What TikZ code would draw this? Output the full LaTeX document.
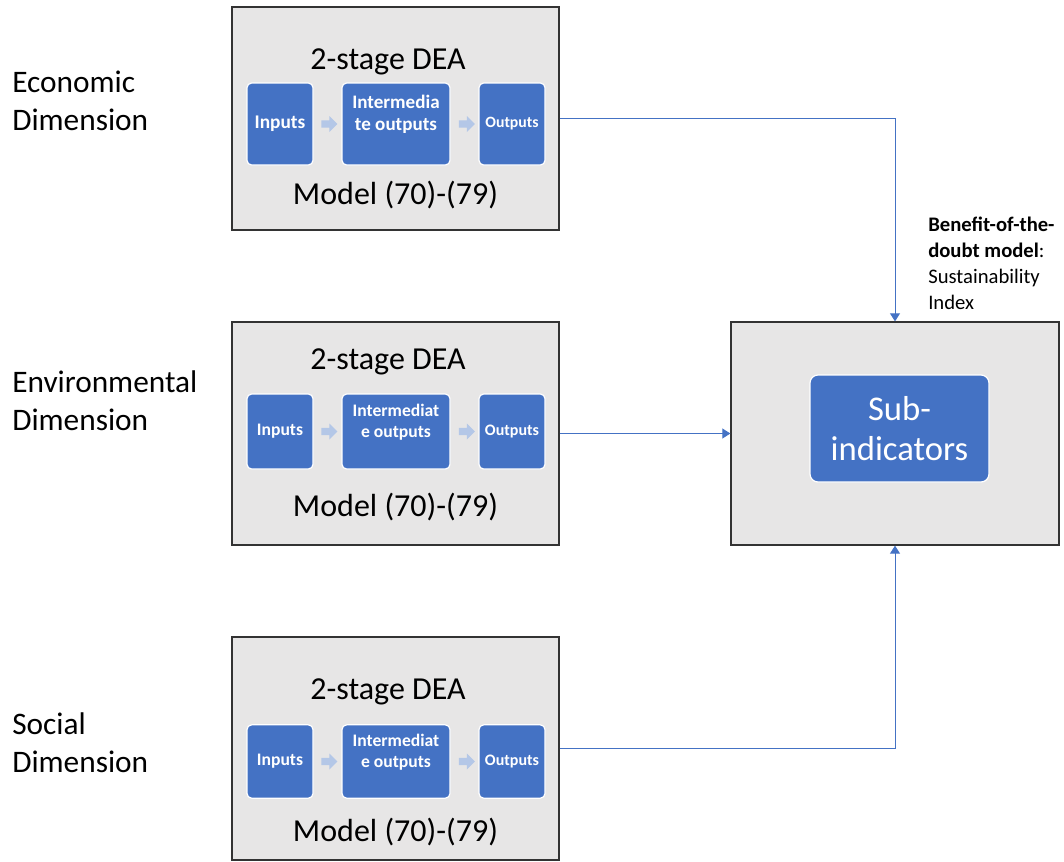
\documentclass[tikz,border=0pt]{standalone}
\usepackage{fontspec}
\setmainfont{Carlito}
\usetikzlibrary{arrows.meta,shapes.arrows,positioning}

\definecolor{dimblue}{HTML}{4472C4}
\definecolor{panelgray}{HTML}{E7E6E6}
\definecolor{chevblue}{HTML}{B4C7E7}

\newcommand{\fsz}[2]{\fontsize{#1}{#2}\selectfont}

\tikzset{
	panel/.style={draw=black!80, fill=panelgray, line width=1pt, inner sep=0pt,
		minimum width=245.25pt, minimum height=167.25pt},
	stagebox/.style={fill=dimblue, draw=white, line width=0.9pt, rounded corners=3.5pt,
		text=white, align=center, inner sep=0pt},
	chev/.style={single arrow, fill=chevblue, draw=none, inner xsep=0pt, inner ysep=2.6pt,
		minimum height=12pt, single arrow head extend=3.2pt},
	headtext/.style={inner sep=0pt, font=\fsz{24}{28.5}},
	modeltext/.style={inner sep=0pt, font=\fsz{24}{28.5}},
	dimlabel/.style={anchor=west, align=left, inner sep=0pt, font=\fsz{23.5}{28.5}},
	flow/.style={-{Triangle[length=6pt,width=7.5pt]}, draw=dimblue, line width=0.75pt}
}

\begin{document}
\begin{tikzpicture}[x=0.75pt,y=-0.75pt]
	\useasboundingbox (0,0) rectangle (1064,861);

	% economic dimension
	\node[panel] (panelA) at (395.5,118.5) {};
	\node[headtext] (deaA) at (388,62) {2-stage DEA};
	\node[stagebox, minimum width=49.5pt, minimum height=61.5pt, font=\fsz{14.5}{17.4}\bfseries] (inA) at (280,124) {Inputs};
	\node[stagebox, minimum width=81pt, minimum height=61.5pt, font=\fsz{14.3}{17}\bfseries] (midA) at (396,124) {Intermedia\\te outputs\\~};
	\node[stagebox, minimum width=49.5pt, minimum height=61.5pt, font=\fsz{11.8}{14}\bfseries] (outA) at (512,124) {Outputs};
	\node[chev] (chA1) at (327.5,124) {};
	\node[chev] (chA2) at (465,124) {};
	\node[modeltext] (modA) at (395.5,195) {Model (70)-(79)};
	\node[dimlabel] (dimA) at (12,101) {Economic\\Dimension};

	% environmental dimension
	\node[panel] (panelB) at (395.5,433.5) {};
	\node[headtext] (deaB) at (388,362) {2-stage DEA};
	\node[stagebox, minimum width=49.5pt, minimum height=56.25pt, font=\fsz{13.2}{15.8}\bfseries] (inB) at (280,431.5) {Inputs};
	\node[stagebox, minimum width=81pt, minimum height=56.25pt, font=\fsz{13.2}{15.8}\bfseries] (midB) at (396,431.5) {Intermediat\\e outputs\\~};
	\node[stagebox, minimum width=49.5pt, minimum height=56.25pt, font=\fsz{12}{14.4}\bfseries] (outB) at (512,431.5) {Outputs};
	\node[chev] (chB1) at (327.5,431.5) {};
	\node[chev] (chB2) at (465,431.5) {};
	\node[modeltext] (modB) at (395.5,507) {Model (70)-(79)};
	\node[dimlabel] (dimB) at (12,401) {Environmental\\Dimension};

	% social dimension
	\node[panel] (panelC) at (395.5,748.5) {};
	\node[headtext] (deaC) at (388,692) {2-stage DEA};
	\node[stagebox, minimum width=49.5pt, minimum height=55pt, font=\fsz{13.2}{15.8}\bfseries] (inC) at (280,761.5) {Inputs};
	\node[stagebox, minimum width=81pt, minimum height=55pt, font=\fsz{13.2}{15.8}\bfseries] (midC) at (396,761.5) {Intermediat\\e outputs\\~};
	\node[stagebox, minimum width=49.5pt, minimum height=55pt, font=\fsz{12}{14.4}\bfseries] (outC) at (512,761.5) {Outputs};
	\node[chev] (chC1) at (327.5,761.5) {};
	\node[chev] (chC2) at (465,761.5) {};
	\node[modeltext] (modC) at (395.5,832) {Model (70)-(79)};
	\node[dimlabel] (dimC) at (12,742.5) {Social\\Dimension};

	% composite index
	\node[panel, minimum width=246pt] (hub) at (895,433.5) {};
	\node[stagebox, rounded corners=6pt, minimum width=134.25pt, minimum height=80.25pt,
		font=\fsz{26}{29.5}] (subind) at (899.5,428.5) {Sub-\\indicators};
	\node[anchor=north west, align=left, inner sep=0pt, font=\fsz{15.5}{19.3}] (bod) at (928,217)
		{\textbf{Benefit-of-the-}\\\textbf{doubt model}:\\Sustainability\\Index};

	\draw[flow] (panelA.east) -| (hub.north);
	\draw[flow] (panelB.east) -- (hub.west);
	\draw[flow] (panelC.east) -| (hub.south);
\end{tikzpicture}
\end{document}
